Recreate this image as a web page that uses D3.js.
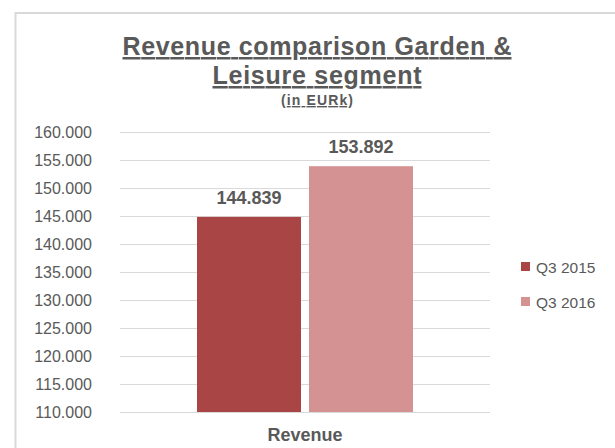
<!DOCTYPE html>
<html>
<head>
<meta charset="utf-8">
<script src="https://cdn.jsdelivr.net/npm/d3@7"></script>
<style>
  body { margin: 0; background: #fff; }
  text { font-family: "Liberation Sans", Arial, sans-serif; fill: #595959; }
</style>
</head>
<body>
<svg width="615" height="448"></svg>
<script>
// data
let categories = ["Revenue"];
let series = ["Q3 2015", "Q3 2016"];
let values = [144839, 153892];
let colors = ["#a94545", "#d49292"];
let yTicks = [110000, 115000, 120000, 125000, 130000, 135000, 140000, 145000, 150000, 155000, 160000];

let svg = d3.select("svg");

let fmt = d3.formatLocale({ decimal: ",", thousands: ".", grouping: [3], currency: ["", "€"] }).format(",d");

// chart frame
svg.append("rect")
  .attr("x", 15.5)
  .attr("y", 13)
  .attr("width", 640)
  .attr("height", 480)
  .attr("fill", "none")
  .attr("stroke", "#d9d9d9")
  .attr("stroke-width", 2);

// title
let title = svg.append("text")
  .attr("text-anchor", "middle")
  .style("font-weight", "bold")
  .style("text-decoration", "underline");
title.append("tspan").attr("x", 317).attr("y", 55).style("font-size", "25px")
  .attr("textLength", 389).attr("lengthAdjust", "spacing").text("Revenue comparison Garden &");
title.append("tspan").attr("x", 317).attr("y", 84).style("font-size", "25px")
  .attr("textLength", 209).attr("lengthAdjust", "spacing").text("Leisure segment");
title.append("tspan").attr("x", 317).attr("y", 105).style("font-size", "14px")
  .attr("textLength", 72).attr("lengthAdjust", "spacing").text("(in EURk)");

// scales
let y = d3.scaleLinear().domain([110000, 160000]).range([412, 132]);

let x0 = d3.scaleBand().domain(categories).range([120, 490]).paddingInner(0).paddingOuter(0.3565);
let x1 = d3.scaleBand().domain(series).range([0, x0.bandwidth()]).paddingInner(8 / 112).paddingOuter(0);

// gridlines
svg.append("g")
  .selectAll("line")
  .data(yTicks)
  .enter()
  .append("line")
  .attr("x1", 120)
  .attr("x2", 490)
  .attr("y1", function (d) { return Math.round(y(d)) + 0.5; })
  .attr("y2", function (d) { return Math.round(y(d)) + 0.5; })
  .attr("stroke", "#d9d9d9")
  .attr("stroke-width", 1);

// y axis labels
svg.append("g")
  .selectAll("text")
  .data(yTicks)
  .enter()
  .append("text")
  .attr("x", 92)
  .attr("y", function (d) { return y(d) + 6; })
  .attr("text-anchor", "end")
  .style("font-size", "16px")
  .text(function (d) { return fmt(d); });

// bars
let group = svg.append("g")
  .attr("transform", "translate(" + x0(categories[0]) + ",0)");

group.selectAll("rect")
  .data(values)
  .enter()
  .append("rect")
  .attr("x", function (d, i) { return x1(series[i]); })
  .attr("y", function (d) { return y(d); })
  .attr("width", x1.bandwidth())
  .attr("height", function (d) { return y(110000) - y(d); })
  .attr("fill", function (d, i) { return colors[i]; });

group.selectAll("text.value")
  .data(values)
  .enter()
  .append("text")
  .classed("value", true)
  .attr("x", function (d, i) { return x1(series[i]) + x1.bandwidth() / 2; })
  .attr("y", function (d) { return y(d) - 13; })
  .attr("text-anchor", "middle")
  .style("font-size", "18px")
  .style("font-weight", "bold")
  .text(function (d) { return fmt(d); });

// category label
svg.selectAll("text.cat")
  .data(categories)
  .enter()
  .append("text")
  .classed("cat", true)
  .attr("x", function (d) { return x0(d) + x0.bandwidth() / 2; })
  .attr("y", 441)
  .attr("text-anchor", "middle")
  .style("font-size", "18px")
  .style("font-weight", "bold")
  .text(function (d) { return d; });

// legend
let legend = svg.append("g")
  .selectAll("g")
  .data(series)
  .enter()
  .append("g")
  .attr("transform", function (d, i) { return "translate(521," + (262 + i * 35) + ")"; });

legend.append("rect")
  .attr("width", 9)
  .attr("height", 9)
  .attr("fill", function (d, i) { return colors[i]; });

legend.append("text")
  .attr("x", 15)
  .attr("y", 10.5)
  .style("font-size", "15.5px")
  .text(function (d) { return d; });
</script>
</body>
</html>
